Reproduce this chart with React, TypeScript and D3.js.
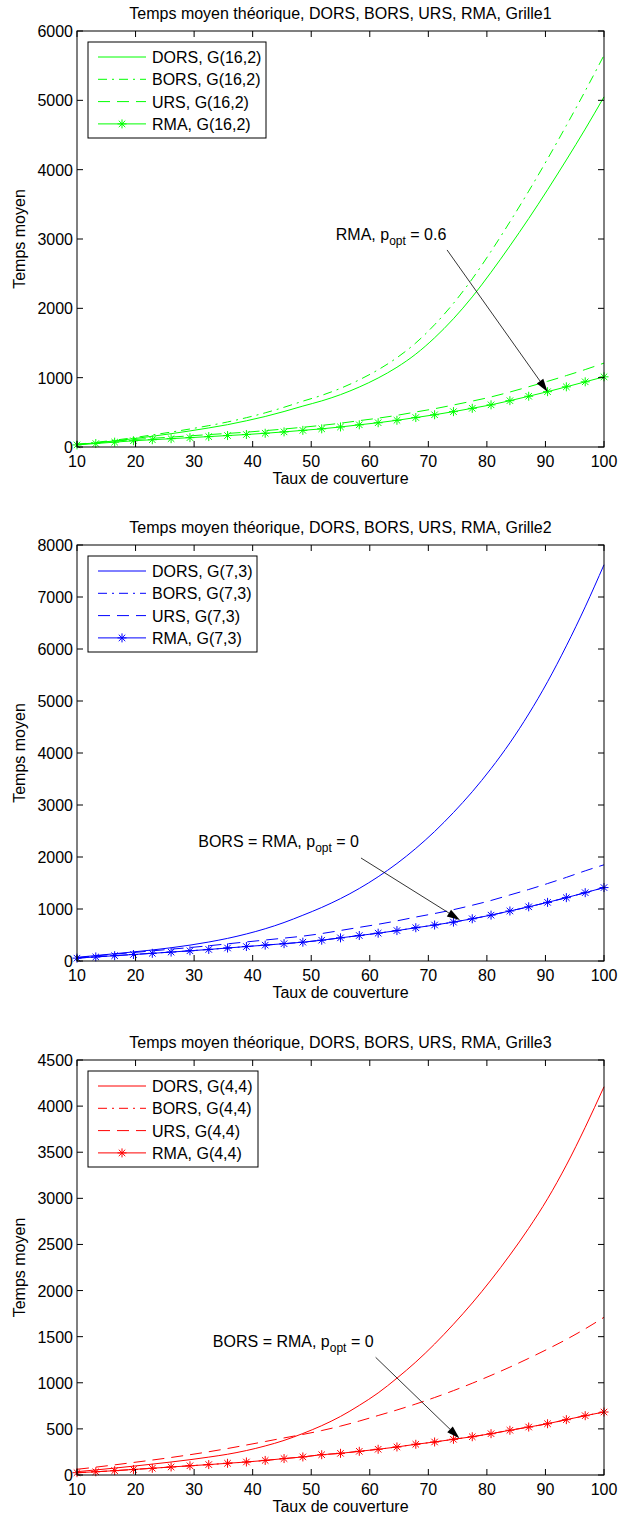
import React from 'react';
import * as d3 from 'd3';

// taux de couverture (29 points, one per RMA marker)
const coverage = [10, 13.21, 16.43, 19.64, 22.86, 26.07, 29.29, 32.5, 35.71, 38.93, 42.14, 45.36, 48.57, 51.79, 55, 58.21, 61.43, 64.64, 67.86, 71.07, 74.29, 77.5, 80.71, 83.93, 87.14, 90.36, 93.57, 96.79, 100];

// Grille1, G(16,2)
const dors1 = [35, 60, 88, 120, 155, 192, 232, 275, 322, 378, 440, 512, 590, 665, 755, 865, 995, 1150, 1340, 1575, 1850, 2165, 2520, 2900, 3295, 3710, 4140, 4585, 5050];
const bors1 = [39, 67, 99, 134, 174, 215, 260, 308, 361, 423, 493, 573, 661, 745, 846, 969, 1114, 1288, 1501, 1764, 2072, 2425, 2822, 3248, 3690, 4155, 4637, 5135, 5650];
const urs1 = [38, 60, 84, 107, 125, 143, 161, 179, 196, 214, 236, 259, 285, 312, 343, 380, 416, 457, 505, 552, 606, 662, 722, 793, 869, 947, 1030, 1117, 1210];
const rma1 = [30, 50, 70, 90, 105, 120, 135, 150, 165, 180, 198, 218, 240, 262, 289, 320, 350, 385, 425, 465, 510, 558, 608, 668, 732, 798, 868, 940, 1012];

// Grille2, G(7,3)
const dors2 = [70, 105, 140, 175, 212, 255, 305, 365, 435, 520, 620, 740, 880, 1030, 1200, 1395, 1620, 1875, 2165, 2490, 2855, 3255, 3700, 4195, 4750, 5370, 6060, 6810, 7620];
const rma2 = [55, 78, 102, 125, 148, 172, 196, 222, 250, 278, 305, 333, 362, 400, 445, 490, 535, 585, 640, 692, 748, 812, 882, 962, 1042, 1128, 1218, 1314, 1412];
const bors2 = rma2;
const urs2 = [62, 98, 132, 163, 195, 227, 259, 293, 330, 367, 403, 440, 478, 528, 587, 647, 706, 772, 845, 913, 987, 1072, 1164, 1270, 1375, 1489, 1608, 1734, 1850];

// Grille3, G(4,4)
const dors3 = [36, 55, 75, 96, 118, 141, 166, 194, 225, 265, 315, 375, 450, 535, 635, 755, 890, 1050, 1225, 1420, 1635, 1865, 2115, 2385, 2675, 2995, 3360, 3770, 4210];
const rma3 = [25, 35, 47, 60, 73, 87, 100, 113, 127, 141, 158, 178, 196, 220, 235, 257, 279, 304, 333, 358, 387, 415, 448, 485, 520, 556, 600, 643, 683];
const bors3 = rma3;
const urs3 = [62, 85, 110, 136, 162, 190, 220, 252, 287, 325, 363, 402, 440, 482, 530, 585, 645, 705, 770, 840, 915, 995, 1080, 1170, 1265, 1365, 1470, 1585, 1710];

const xTicks = [10, 20, 30, 40, 50, 60, 70, 80, 90, 100];
const yTicks1 = [0, 1000, 2000, 3000, 4000, 5000, 6000];
const yTicks2 = [0, 1000, 2000, 3000, 4000, 5000, 6000, 7000, 8000];
const yTicks3 = [0, 500, 1000, 1500, 2000, 2500, 3000, 3500, 4000, 4500];

const FONT = '"Liberation Sans", Arial, Helvetica, sans-serif';
const FS = 16;
const LEFT = 77;
const RIGHT = 604;
const DASH = '12,7';
const DASHDOT = '9,5,2,5';

const panels = [
  {
    title: 'Temps moyen théorique, DORS, BORS, URS, RMA, Grille1',
    grid: 'G(16,2)', color: '#00ff00', top: 31, bottom: 447, yTicks: yTicks1,
    dors: dors1, bors: bors1, urs: urs1, rma: rma1, legendW: 178,
    note: { pre: 'RMA, p', post: ' = 0.6', tx: 54.2, ty: 2980, ax: 73.2, ay: 2842, hx: 90.36, hy: 798 },
  },
  {
    title: 'Temps moyen théorique, DORS, BORS, URS, RMA, Grille2',
    grid: 'G(7,3)', color: '#0000ff', top: 545, bottom: 961, yTicks: yTicks2,
    dors: dors2, bors: bors2, urs: urs2, rma: rma2, legendW: 169,
    note: { pre: 'BORS = RMA, p', post: ' = 0', tx: 30.7, ty: 2190, ax: 58.5, ay: 1981, hx: 75.4, hy: 790 },
  },
  {
    title: 'Temps moyen théorique, DORS, BORS, URS, RMA, Grille3',
    grid: 'G(4,4)', color: '#ff0000', top: 1060, bottom: 1475, yTicks: yTicks3,
    dors: dors3, bors: bors3, urs: urs3, rma: rma3, legendW: 170,
    note: { pre: 'BORS = RMA, p', post: ' = 0', tx: 33.2, ty: 1388, ax: 61.0, ay: 1276, hx: 75.3, hy: 398 },
  },
];

const x = d3.scaleLinear().domain([10, 100]).range([LEFT, RIGHT]);

const Star = ({ cx, cy, color }: { cx: number; cy: number; color: string }) => {
  const r = 4.5;
  const d = r * 0.72;
  return (
    <path
      d={`M${cx - r},${cy}H${cx + r}M${cx},${cy - r}V${cy + r}M${cx - d},${cy - d}L${cx + d},${cy + d}M${cx - d},${cy + d}L${cx + d},${cy - d}`}
      stroke={color}
      strokeWidth={1}
      fill="none"
    />
  );
};

const Panel = ({ p }: { p: any }) => {
  const y = d3.scaleLinear().domain([0, p.yTicks[p.yTicks.length - 1]]).range([p.bottom, p.top]);
  const line = d3.line<number>().x((_, i) => x(coverage[i])).y(d => y(d)).curve(d3.curveMonotoneX);

  const series = [
    { name: 'DORS', values: p.dors, dash: null, marker: false },
    { name: 'BORS', values: p.bors, dash: DASHDOT, marker: false },
    { name: 'URS', values: p.urs, dash: DASH, marker: false },
    { name: 'RMA', values: p.rma, dash: null, marker: true },
  ];

  // annotation arrow
  const n = p.note;
  const ax = x(n.ax), ay = y(n.ay), hx = x(n.hx), hy = y(n.hy);
  const ang = Math.atan2(hy - ay, hx - ax);
  const L = 13, W = 4;
  const bx = hx - L * Math.cos(ang), by = hy - L * Math.sin(ang);
  const head = `M${hx},${hy}L${bx + W * Math.sin(ang)},${by - W * Math.cos(ang)}L${bx - W * Math.sin(ang)},${by + W * Math.cos(ang)}Z`;

  const lgTop = p.top + 11;
  const lgLeft = 88;

  return (
    <g fontFamily={FONT} fontSize={FS}>
      <text x={(LEFT + RIGHT) / 2} y={p.top - 12} textAnchor="middle" fill="#000">{p.title}</text>

      {series.map(s => (
        <path key={s.name} d={line(s.values) || ''} fill="none" stroke={p.color} strokeWidth={1}
          strokeDasharray={s.dash || undefined} />
      ))}
      {p.rma.map((v: number, i: number) => (
        <Star key={i} cx={x(coverage[i])} cy={y(v)} color={p.color} />
      ))}

      {/* axes box */}
      <rect x={LEFT} y={p.top} width={RIGHT - LEFT} height={p.bottom - p.top} fill="none" stroke="#000" strokeWidth={1} />
      {xTicks.map(t => (
        <g key={'x' + t}>
          <line x1={x(t)} x2={x(t)} y1={p.bottom} y2={p.bottom - 6} stroke="#000" />
          <line x1={x(t)} x2={x(t)} y1={p.top} y2={p.top + 6} stroke="#000" />
          <text x={x(t)} y={p.bottom + 20} textAnchor="middle">{t}</text>
        </g>
      ))}
      {p.yTicks.map((t: number) => (
        <g key={'y' + t}>
          <line x1={LEFT} x2={LEFT + 6} y1={y(t)} y2={y(t)} stroke="#000" />
          <line x1={RIGHT} x2={RIGHT - 6} y1={y(t)} y2={y(t)} stroke="#000" />
          <text x={LEFT - 4} y={y(t) + 6} textAnchor="end">{t}</text>
        </g>
      ))}
      <text x={(LEFT + RIGHT) / 2} y={p.bottom + 37} textAnchor="middle">Taux de couverture</text>
      <text transform={`translate(25,${(p.top + p.bottom) / 2}) rotate(-90)`} textAnchor="middle">Temps moyen</text>

      {/* legend */}
      <rect x={lgLeft} y={lgTop} width={p.legendW} height={96} fill="#fff" stroke="#000" strokeWidth={1} />
      {series.map((s, i) => {
        const ry = lgTop + 15 + i * 22.3;
        return (
          <g key={'lg' + s.name}>
            <line x1={lgLeft + 10} x2={lgLeft + 58} y1={ry} y2={ry} stroke={p.color} strokeWidth={1}
              strokeDasharray={s.dash || undefined} />
            {s.marker && <Star cx={lgLeft + 34} cy={ry} color={p.color} />}
            <text x={lgLeft + 64} y={ry + 6}>{`${s.name}, ${p.grid}`}</text>
          </g>
        );
      })}

      {/* annotation */}
      <text x={x(n.tx)} y={y(n.ty)}>
        {n.pre}
        <tspan dy={5} fontSize={12}>opt</tspan>
        <tspan dy={-5}>{n.post}</tspan>
      </text>
      <line x1={ax} y1={ay} x2={bx} y2={by} stroke="#000" strokeWidth={0.8} />
      <path d={head} fill="#000" />
    </g>
  );
};

export default function App() {
  return (
    <svg width={618} height={1522} style={{ position: 'absolute', left: 0, top: 0, background: '#fff' }}>
      <rect width={618} height={1522} fill="#fff" />
      {panels.map(p => <Panel key={p.title} p={p} />)}
    </svg>
  );
}
